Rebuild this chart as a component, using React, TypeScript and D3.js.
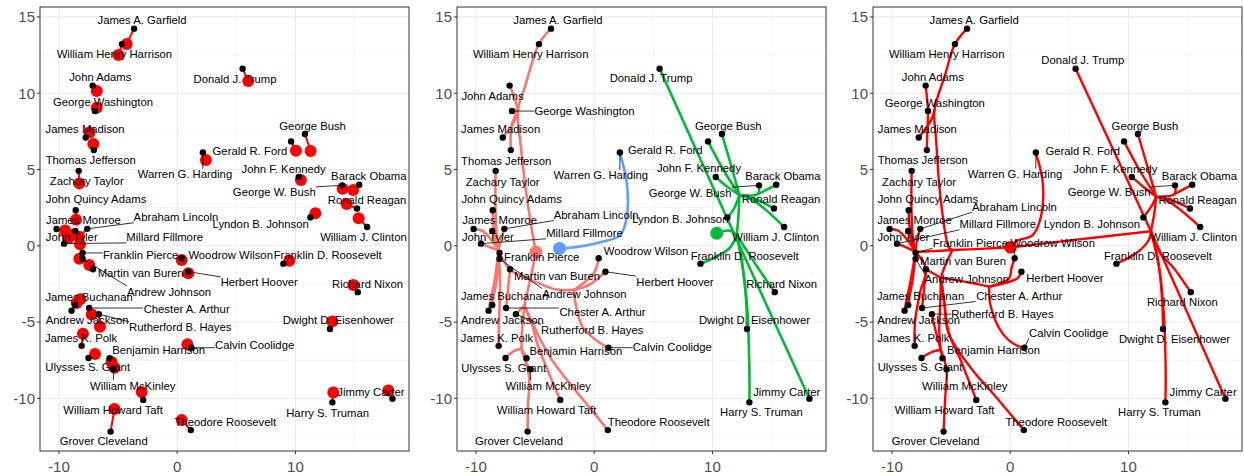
import React from "react";
import * as d3 from "d3";

// ---------- data ----------
const presidents = [
  "George Washington", "John Adams", "Thomas Jefferson", "James Madison", "James Monroe",
  "John Quincy Adams", "Andrew Jackson", "Martin van Buren", "William Henry Harrison", "John Tyler",
  "James K. Polk", "Zachary Taylor", "Millard Fillmore", "Franklin Pierce", "James Buchanan",
  "Abraham Lincoln", "Andrew Johnson", "Ulysses S. Grant", "Rutherford B. Hayes", "James A. Garfield",
  "Chester A. Arthur", "Grover Cleveland", "Benjamin Harrison", "William McKinley", "Theodore Roosevelt",
  "William Howard Taft", "Woodrow Wilson", "Warren G. Harding", "Calvin Coolidge", "Herbert Hoover",
  "Franklin D. Roosevelt", "Harry S. Truman", "Dwight D. Eisenhower", "John F. Kennedy", "Lyndon B. Johnson",
  "Richard Nixon", "Gerald R. Ford", "Jimmy Carter", "Ronald Reagan", "George Bush",
  "William J. Clinton", "George W. Bush", "Barack Obama", "Donald J. Trump",
];
const presX = [-6.95, -7.15, -7.05, -7.73, -8.62, -8.58, -8.93, -7.12, -4.67, -10.2,
  -8.08, -8.33, -9.57, -8.0, -8.62, -7.6, -8.0, -7.5, -6.62, -3.65,
  -7.45, -5.63, -5.72, -5.38, 1.15, -2.87, 0.38, 2.17, 1.2, 0.95,
  8.98, 13.12, 12.92, 10.28, 11.26, 15.27, 9.63, 18.2, 15.2, 10.8,
  16.06, 13.94, 15.39, 5.53];
const presY = [8.83, 10.5, 6.27, 7.1, 0.97, 2.33, -4.25, -1.54, 13.22, 1.1,
  -6.56, 4.91, 0.14, -0.47, -3.88, 1.11, -0.86, -7.35, -4.48, 14.23,
  -4.08, -12.18, -7.37, -8.1, -12.08, -10.1, -0.82, 6.11, -6.68, -1.7,
  -1.17, -10.26, -5.45, 4.51, 1.86, -3.04, 6.84, -10.02, 2.44, 7.33,
  1.23, 3.96, 4.0, 11.61];

// panel 1: shifted (red) positions
const redDotX = [-6.8, -6.8, -7.09, -7.42, -8.92, -8.55, -8.5, -7.43, -4.97, -9.48,
  -7.97, -8.27, -9.2, -8.22, -8.2, -8.3, -8.27, -6.95, -6.53, -4.27,
  -7.23, -5.3, -5.55, -5.3, 0.38, -3.0, 0.38, 2.43, 0.86, 0.94,
  9.48, 13.2, 13.12, 10.46, 11.68, 14.89, 10.04, 17.85, 14.33, 11.28,
  15.34, 13.99, 14.89, 6.01];
const redDotY = [9.05, 10.14, 6.67, 7.43, 0.7, 1.71, -3.75, -1.26, 12.5, 1.0,
  -5.76, 4.09, 0.5, 0.1, -3.5, 0.6, -0.85, -7.1, -5.3, 13.22,
  -4.5, -10.7, -7.62, -8.0, -11.42, -9.58, -0.93, 5.62, -6.46, -1.8,
  -0.98, -9.62, -4.97, 4.31, 2.13, -2.57, 6.23, -9.49, 2.74, 6.21,
  1.8, 3.74, 3.66, 10.8];

// label anchors (data units), one set per panel
const labelX1 = [-6.27, -6.5, -7.31, -7.79, -7.93, -6.86, -7.62, -3.09, -5.31, -8.92,
  -8.13, -7.65, -1.06, -3.09, -7.45, -0.1, -0.69, -7.57, 0.26, -2.97,
  0.8, -6.21, -1.57, -3.76, 4.07, -5.42, 4.52, 0.66, 6.55, 6.94,
  12.72, 12.72, 13.62, 9.0, 7.06, 16.09, 6.15, 16.38, 16.06, 11.45,
  15.75, 8.21, 16.2, 4.89];
const labelY1 = [9.4, 11.04, 5.64, 7.65, 1.69, 3.04, -4.86, -1.81, 12.57, 0.55,
  -6.06, 4.25, 0.55, -0.6, -3.33, 1.87, -3.0, -7.96, -5.34, 14.8,
  -4.16, -12.79, -6.83, -9.17, -11.57, -10.76, -0.6, 4.68, -6.5, -2.4,
  -0.6, -10.93, -4.86, 5.03, 1.43, -2.5, 6.23, -9.56, 3.0, 7.85,
  0.55, 3.5, 4.6, 10.93];
const labelX2 = [-0.82, -8.6, -7.44, -7.91, -8.0, -6.98, -7.76, -3.14, -5.37, -8.99,
  -8.22, -7.74, -0.82, -4.44, -7.58, 0.17, -0.82, -7.65, -0.16, -3.07,
  0.7, -6.36, -1.55, -3.88, 5.45, -4.03, 4.39, 0.56, 6.6, 6.83,
  12.72, 14.14, 13.55, 8.86, 7.28, 15.85, 6.01, 16.28, 15.8, 11.34,
  15.34, 8.11, 15.95, 4.81];
const labelY2 = [8.83, 9.84, 5.57, 7.69, 1.69, 3.05, -4.86, -1.98, 12.57, 0.55,
  -6.06, 4.2, 0.82, -0.71, -3.29, 2.02, -3.18, -7.99, -5.52, 14.8,
  -4.36, -12.79, -6.87, -9.17, -11.57, -10.76, -0.32, 4.63, -6.65, -2.35,
  -0.67, -10.87, -4.86, 5.08, 1.76, -2.5, 6.28, -9.56, 3.05, 7.85,
  0.6, 3.48, 4.57, 10.97];
const labelX3 = [-6.37, -6.54, -7.39, -7.85, -8.09, -6.96, -7.74, -3.99, -5.37, -9.03,
  -8.19, -7.71, -1.05, -3.37, -7.58, 0.36, -3.68, -7.62, -0.66, -3.05,
  0.76, -6.3, -1.41, -3.84, 3.9, -5.54, 3.59, 0.41, 4.94, 4.62,
  12.49, 12.62, 13.89, 8.89, 6.9, 14.56, 6.14, 16.31, 15.85, 11.39,
  15.51, 8.37, 15.99, 6.14];
const labelY3 = [9.38, 11.04, 5.62, 7.65, 1.69, 3.04, -4.86, -1.0, 12.57, 0.55,
  -6.06, 4.2, 1.41, 0.2, -3.29, 2.56, -2.2, -7.96, -4.47, 14.8,
  -3.29, -12.79, -6.83, -9.17, -11.57, -10.76, 0.2, 4.71, -5.69, -2.13,
  -0.67, -10.87, -6.13, 5.03, 1.41, -3.66, 6.23, -9.56, 3.0, 7.85,
  0.55, 3.5, 4.6, 12.17];

type Pt = string | [number, number];

// panel 2: per-cluster trees
const clusterColors = ["#F8766D", "#00BA38", "#619CFF"];
const clusterRootX = [-4.93, 10.36, -2.93];
const clusterRootY = [-0.42, 0.82, -0.17];
const cluster1Paths: Pt[][] = [
  ["James A. Garfield", "William Henry Harrison", [-5.9, 10.3], [-6.45, 8.9], [-6.2, 6.5], [-5.75, 3.5], [-5.3, 1.2], [-4.93, -0.42]],
  ["John Adams", [-6.7, 9.6], [-6.45, 8.9]],
  ["George Washington", [-6.45, 8.9]],
  [[-6.45, 8.9], [-6.85, 8.0], "James Madison"],
  [[-6.45, 8.9], [-7.0, 7.8], "Thomas Jefferson"],
  ["Zachary Taylor", [-8.35, 2.5], [-8.2, 0.3], [-8.1, -0.3]],
  ["John Quincy Adams", [-8.5, 1.2], [-8.1, -0.3]],
  ["John Tyler", [-9.5, 1.0], [-8.7, 0.4], [-8.1, -0.3]],
  ["James Monroe", [-8.4, 0.4], [-8.1, -0.3]],
  ["Abraham Lincoln", [-7.9, 0.3], [-8.1, -0.3]],
  ["Millard Fillmore", [-8.8, -0.1], [-8.1, -0.3]],
  [[-8.1, -0.3], "Franklin Pierce", "Andrew Johnson"],
  [[-8.1, -0.3], "Martin van Buren", [-4.68, -2.46], [-3.27, -2.85], [-1.72, -2.9]],
  [[-1.72, -2.9], [-0.03, -1.8], "Woodrow Wilson"],
  [[-1.72, -2.9], [-0.46, -2.57], [0.6, -1.95], "Herbert Hoover"],
  [[-1.72, -2.9], [-1.52, -4.0], [-1.0, -5.3], [0.13, -6.17], "Calvin Coolidge"],
  [[-8.1, -0.3], [-8.2, -2.0], [-8.5, -3.3], "James Buchanan"],
  [[-8.1, -0.3], [-8.4, -2.2], [-8.8, -3.7], "Andrew Jackson"],
  [[-8.1, -0.3], [-7.95, -2.5], [-8.05, -5.0], "James K. Polk"],
  ["Martin van Buren", [-7.3, -3.0], "Chester A. Arthur"],
  [[-4.93, -0.42], [-5.3, -1.8], [-5.9, -3.9]],
  [[-5.9, -3.9], "Rutherford B. Hayes"],
  [[-5.9, -3.9], [-6.1, -5.6], [-6.15, -6.75]],
  [[-6.15, -6.75], [-6.8, -6.9], "Ulysses S. Grant"],
  [[-6.15, -6.75], "Benjamin Harrison"],
  [[-6.15, -6.75], [-5.8, -7.6], "William McKinley"],
  [[-6.15, -6.75], [-5.5, -8.6], [-5.6, -10.5], "Grover Cleveland"],
  [[-5.9, -3.9], [-5.2, -5.3], [-4.82, -6.39], [-3.83, -8.36], "William Howard Taft"],
  [[-5.9, -3.9], [-4.68, -5.95], [-3.57, -7.49], [-1.85, -9.23], [-0.46, -10.54], "Theodore Roosevelt"],
];
const cluster2Paths: Pt[][] = [
  ["Donald J. Trump", [12.0, 0.5], "Jimmy Carter"],
  [[10.36, 0.82], [11.4, 1.0], [12.06, 0.71]],
  [[12.06, 0.71], [12.2, 2.0], [12.28, 3.33]],
  ["George Bush", [11.6, 5.2], [12.28, 3.33]],
  ["Gerald R. Ford", [10.9, 5.0], [12.28, 3.33]],
  ["John F. Kennedy", [11.2, 3.9], [12.28, 3.33]],
  ["Lyndon B. Johnson", [11.8, 2.4], [12.28, 3.33]],
  [[12.28, 3.33], [13.83, 3.39], "George W. Bush"],
  [[13.83, 3.39], [14.4, 3.6], "Barack Obama"],
  [[12.28, 3.33], [13.8, 3.0], "Ronald Reagan"],
  [[12.28, 3.33], [13.6, 2.9], "William J. Clinton"],
  [[12.06, 0.71], [11.44, -0.16], [10.03, -0.82], "Franklin D. Roosevelt"],
  [[12.06, 0.71], [13.97, -1.59], "Richard Nixon"],
  [[12.06, 0.71], [12.57, -1.48], [12.85, -3.55], "Dwight D. Eisenhower"],
  [[12.06, 0.71], [12.42, -0.71], [12.93, -4.0], [13.13, -8.57], "Harry S. Truman"],
];
const cluster3Paths: Pt[][] = [
  ["Warren G. Harding", [2.76, 4.1], [2.76, 1.9], [2.2, 0.7], [0.68, 0.27], [-2.42, -0.16], [-2.93, -0.17]],
];

// panel 3: one tree
const treeRootX = 0.03;
const treeRootY = -0.1;
const treePaths: Pt[][] = [
  [[0.03, -0.1], [4.17, 0.27], [11.9, 0.95]],
  ["Donald J. Trump", [11.9, 0.95], "Jimmy Carter"],
  [[11.9, 0.95], [12.2, 2.2], [12.34, 3.22]],
  ["George Bush", [11.6, 5.2], [12.34, 3.22]],
  ["Gerald R. Ford", [10.9, 5.0], [12.34, 3.22]],
  ["John F. Kennedy", [11.2, 3.9], [12.34, 3.22]],
  ["Lyndon B. Johnson", [11.92, 2.56], [12.34, 3.22]],
  [[12.34, 3.22], [13.89, 3.39], "George W. Bush"],
  [[13.89, 3.39], [14.4, 3.6], "Barack Obama"],
  [[12.34, 3.22], [13.8, 2.95], "Ronald Reagan"],
  [[12.34, 3.22], [13.6, 2.8], "William J. Clinton"],
  [[11.9, 0.95], [12.7, -0.5], [13.74, -1.37], "Richard Nixon"],
  [[11.9, 0.95], [12.6, -1.5], [12.85, -3.6], "Dwight D. Eisenhower"],
  [[11.9, 0.95], [12.45, -0.7], [12.95, -4.0], [13.15, -8.5], "Harry S. Truman"],
  [[11.9, 0.95], [11.72, 0.38], [10.65, -0.49], "Franklin D. Roosevelt"],
  ["Warren G. Harding", [2.76, 4.1], [2.6, 1.9], [1.9, 0.7], [0.5, 0.3], [0.03, -0.1]],
  [[0.03, -0.1], [-2.5, -0.2], [-4.88, -0.28]],
  [[-4.88, -0.28], [-5.17, -0.13], [-5.87, 3.0], [-6.26, 6.93], [-6.4, 8.9], [-5.55, 11.08], "William Henry Harrison", "James A. Garfield"],
  ["John Adams", "George Washington", [-7.0, 7.6], "Thomas Jefferson"],
  ["James Madison", [-6.7, 8.2], [-6.4, 8.9]],
  [[-4.88, -0.28], [-6.5, -0.35], [-8.0, -0.4]],
  ["Zachary Taylor", [-8.35, 2.5], [-8.2, 0.3], [-8.0, -0.4]],
  ["John Quincy Adams", [-8.5, 1.2], [-8.0, -0.4]],
  ["John Tyler", [-9.5, 1.0], [-8.7, 0.4], [-8.0, -0.4]],
  ["James Monroe", [-8.4, 0.4], [-8.0, -0.4]],
  ["Abraham Lincoln", [-7.9, 0.3], [-8.0, -0.4]],
  ["Millard Fillmore", [-8.8, -0.1], [-8.0, -0.4]],
  [[-8.0, -0.4], "Franklin Pierce", "Andrew Johnson"],
  [[-8.0, -0.4], [-8.2, -2.0], [-8.5, -3.3], "James Buchanan"],
  [[-8.0, -0.4], [-8.4, -2.2], [-8.8, -3.7], "Andrew Jackson"],
  [[-8.0, -0.4], "Martin van Buren", [-7.6, -3.0], [-8.05, -5.0], "James K. Polk"],
  ["Martin van Buren", [-7.3, -3.0], "Chester A. Arthur"],
  ["Martin van Buren", [-5.87, -2.1]],
  [[-4.88, -0.28], [-5.5, -1.3], [-5.87, -2.1]],
  [[-5.87, -2.1], [-4.2, -2.3], [-1.78, -2.68]],
  [[-1.78, -2.68], [-0.08, -2.13], [0.1, -1.5], "Woodrow Wilson"],
  [[-1.78, -2.68], [0.62, -2.13], "Herbert Hoover"],
  [[-1.78, -2.68], [-1.64, -3.99], [-0.65, -5.74], [0.47, -6.5], "Calvin Coolidge"],
  [[-5.87, -2.1], [-5.6, -3.5], [-5.3, -5.52], [-4.31, -7.27], "William Howard Taft"],
  [[-5.87, -2.1], [-5.55, -3.8], [-5.1, -5.9], [-3.19, -8.14], [-1.22, -9.89], "Theodore Roosevelt"],
  [[-5.87, -2.1], [-5.9, -3.5], [-6.0, -5.5], [-5.87, -6.83]],
  ["Rutherford B. Hayes", [-6.3, -5.6], [-5.87, -6.83]],
  [[-5.87, -6.83], [-6.6, -6.95], "Ulysses S. Grant"],
  [[-5.87, -6.83], "Benjamin Harrison"],
  [[-5.87, -6.83], "William McKinley", [-5.5, -10.0], "Grover Cleveland"],
];

const xMajor = [-10, 0, 10];
const xMinor = [-5, 5, 15];
const yMajor = [-10, -5, 0, 5, 10, 15];
const yMinor = [-12.5, -7.5, -2.5, 2.5, 7.5, 12.5];

// ---------- layout ----------
const W = 1244;
const H = 476;
const panelLefts = [40, 457, 873];
const panelW = 369;
const panelTop = 7;
const panelBottom = 451;
const FONT = "'Liberation Sans', Arial, Helvetica, sans-serif";
const LABEL_SIZE = 11.3;
const AXIS_SIZE = 15;

let ctx: CanvasRenderingContext2D | null = null;
function textWidth(t: string): number {
  if (!ctx) {
    const c = document.createElement("canvas");
    ctx = c.getContext("2d");
  }
  if (!ctx) return t.length * 6;
  ctx.font = `${LABEL_SIZE}px 'Liberation Sans', Arial, sans-serif`;
  return ctx.measureText(t).width;
}

const nameIndex = new Map(presidents.map((n, i) => [n, i]));
function resolve(p: Pt): [number, number] {
  if (typeof p === "string") {
    const i = nameIndex.get(p)!;
    return [presX[i], presY[i]];
  }
  return p;
}

function Panel({ left, mode }: { left: number; mode: number }) {
  const xs = d3.scaleLinear().domain([-11.6, 19.6]).range([left, left + panelW]);
  const ys = d3.scaleLinear().domain([-13.45, 15.65]).range([panelBottom, panelTop]);
  const line = d3
    .line<[number, number]>()
    .x((d) => xs(d[0]))
    .y((d) => ys(d[1]))
    .curve(d3.curveCatmullRom.alpha(0.5));

  const labX = mode === 0 ? labelX1 : mode === 1 ? labelX2 : labelX3;
  const labY = mode === 0 ? labelY1 : mode === 1 ? labelY2 : labelY3;

  return (
    <g>
      <rect x={left} y={panelTop} width={panelW} height={panelBottom - panelTop} fill="#fff" />
      {xMinor.map((v) => (
        <line key={"xm" + v} x1={xs(v)} x2={xs(v)} y1={panelTop} y2={panelBottom} stroke="#EBEBEB" strokeWidth={0.55} />
      ))}
      {yMinor.map((v) => (
        <line key={"ym" + v} x1={left} x2={left + panelW} y1={ys(v)} y2={ys(v)} stroke="#EBEBEB" strokeWidth={0.55} />
      ))}
      {xMajor.map((v) => (
        <line key={"xM" + v} x1={xs(v)} x2={xs(v)} y1={panelTop} y2={panelBottom} stroke="#EBEBEB" strokeWidth={1.1} />
      ))}
      {yMajor.map((v) => (
        <line key={"yM" + v} x1={left} x2={left + panelW} y1={ys(v)} y2={ys(v)} stroke="#EBEBEB" strokeWidth={1.1} />
      ))}

      {mode === 0 &&
        presidents.map((n, i) => (
          <line key={"rs" + i} x1={xs(presX[i])} y1={ys(presY[i])} x2={xs(redDotX[i])} y2={ys(redDotY[i])} stroke="#FF0000" strokeWidth={2} />
        ))}
      {mode === 0 &&
        presidents.map((n, i) => (
          <circle key={"rd" + i} cx={xs(redDotX[i])} cy={ys(redDotY[i])} r={6} fill="#FF0000" />
        ))}

      {mode === 1 &&
        [cluster1Paths, cluster2Paths, cluster3Paths].map((paths, ci) =>
          paths.map((p, j) => (
            <path key={"c" + ci + "_" + j} d={line(p.map(resolve)) || ""} fill="none" stroke={clusterColors[ci]} strokeWidth={2.6} strokeLinecap="round" strokeLinejoin="round" />
          ))
        )}
      {mode === 1 &&
        clusterColors.map((c, ci) => (
          <circle key={"root" + ci} cx={xs(clusterRootX[ci])} cy={ys(clusterRootY[ci])} r={6.5} fill={c} />
        ))}

      {mode === 2 &&
        treePaths.map((p, j) => (
          <path key={"t" + j} d={line(p.map(resolve)) || ""} fill="none" stroke="#FF0000" strokeWidth={2.4} strokeLinecap="round" strokeLinejoin="round" />
        ))}
      {mode === 2 && <circle cx={xs(treeRootX)} cy={ys(treeRootY)} r={6.3} fill="#FF0000" />}

      {presidents.map((n, i) => (
        <circle key={"p" + i} cx={xs(presX[i])} cy={ys(presY[i])} r={3.2} fill="#000" />
      ))}

      {presidents.map((n, i) => {
        const px = xs(presX[i]);
        const py = ys(presY[i]);
        const lx = xs(labX[i]);
        const ly = ys(labY[i]);
        const w = textWidth(n);
        const h = 11;
        const nx = Math.max(lx - w / 2, Math.min(px, lx + w / 2));
        const ny = Math.max(ly - h / 2, Math.min(py, ly + h / 2));
        const dist = Math.hypot(px - nx, py - ny);
        let seg = null;
        if (dist > 9) {
          const ex = px + ((nx - px) / dist) * 2.5;
          const ey = py + ((ny - py) / dist) * 2.5;
          seg = <line x1={nx} y1={ny} x2={ex} y2={ey} stroke="#000" strokeWidth={0.8} />;
        }
        return (
          <g key={"l" + i}>
            {seg}
            <text x={lx} y={ly} dy="0.36em" textAnchor="middle" fontSize={LABEL_SIZE} fontFamily={FONT} fill="#000">
              {n}
            </text>
          </g>
        );
      })}

      <rect x={left} y={panelTop} width={panelW} height={panelBottom - panelTop} fill="none" stroke="#333333" strokeWidth={1} />

      {yMajor.map((v) => (
        <g key={"yt" + v}>
          <line x1={left - 3} x2={left} y1={ys(v)} y2={ys(v)} stroke="#333333" strokeWidth={1} />
          <text x={left - 5} y={ys(v)} dy="0.36em" textAnchor="end" fontSize={AXIS_SIZE} fontFamily={FONT} fill="#4D4D4D">
            {v}
          </text>
        </g>
      ))}
      {xMajor.map((v) => (
        <g key={"xt" + v}>
          <line x1={xs(v)} x2={xs(v)} y1={panelBottom} y2={panelBottom + 3} stroke="#333333" strokeWidth={1} />
          <text x={xs(v)} y={471.5} textAnchor="middle" fontSize={AXIS_SIZE} fontFamily={FONT} fill="#4D4D4D">
            {v}
          </text>
        </g>
      ))}
    </g>
  );
}

export default function App() {
  return (
    <svg width={W} height={H} style={{ position: "absolute", left: 0, top: 0 }}>
      <rect width={W} height={H} fill="#fff" />
      {panelLefts.map((l, k) => (
        <Panel key={k} left={l} mode={k} />
      ))}
    </svg>
  );
}
